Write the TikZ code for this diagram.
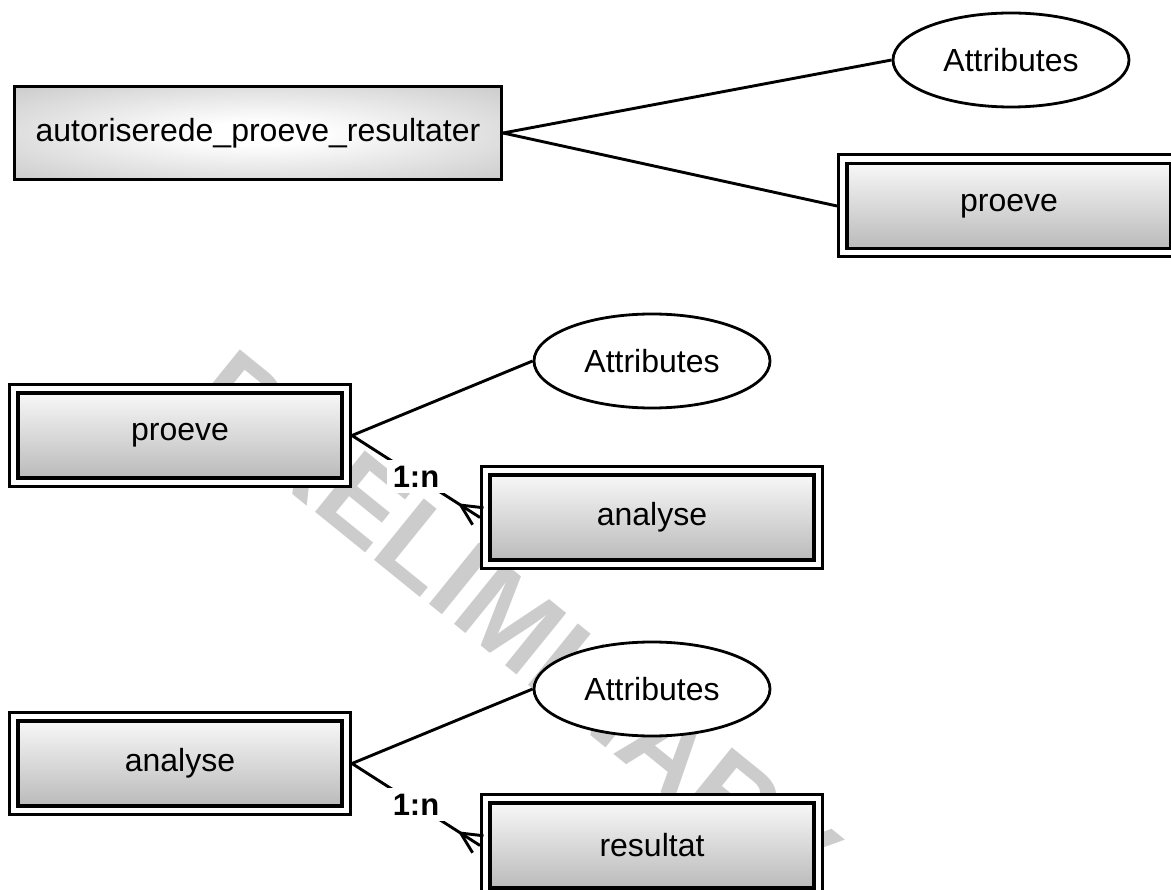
\documentclass[tikz,border=0pt]{standalone}
\usepackage{fontspec}
\setmainfont{Liberation Sans}
\usetikzlibrary{shapes.geometric,calc}
\pgfdeclareradialshading{entshade}{\pgfpoint{0bp}{0bp}}{color(0bp)=(white); color(6bp)=(white); color(50bp)=(black!30); color(72bp)=(black!34)}
\begin{document}
\begin{tikzpicture}[x=1pt,y=-1pt,
  every node/.style={font=\fontsize{32}{38}\selectfont},
  entity/.style={draw, line width=3.2pt, rectangle, shading=entshade, minimum width=487pt, minimum height=93pt, inner sep=0pt},
  weakouter/.style={draw, line width=3pt, fill=white, minimum width=341pt, minimum height=102pt, inner sep=0pt},
  weakinner/.style={draw, line width=3.3pt, top color=black!3, bottom color=black!27, minimum width=324pt, minimum height=85pt, inner sep=0pt},
  attr/.style={draw, ellipse, line width=2.8pt, fill=white, minimum width=236pt, minimum height=94pt, inner sep=0pt},
  conn/.style={line width=2.9pt, line join=round},
  card/.style={fill=white, inner sep=6pt, font=\fontsize{31}{37}\selectfont\bfseries},
  wmark/.style={text=black!20, font=\fontsize{115}{115}\selectfont\bfseries, rotate=-39, inner sep=0pt}]
\useasboundingbox (0,0) rectangle (1171,890);
\clip (0,0) rectangle (1171,890);
\fill[white] (0,0) rectangle (1171,890);

\node[wmark] (wm) at (516,624) {PRELIMINARY};

% row 1
\node[entity] (ars) at (258,133) {autoriserede\_proeve\_resultater};
\node[attr] (at1) at (1011,60) {Attributes};
\node[weakouter] (pr1) at (1009,206) {};
\node[weakinner] (pr1i) at (pr1) {proeve};

% row 2
\node[weakouter] (pr2) at (180,435.5) {};
\node[weakinner] (pr2i) at (pr2) {proeve};
\node[attr] (at2) at (652,361) {Attributes};
\node[weakouter] (an2) at (652,517.5) {};
\node[weakinner] (an2i) at (an2) {analyse};

% row 3
\node[weakouter] (an3) at (180,763.5) {};
\node[weakinner] (an3i) at (an3) {analyse};
\node[attr] (at3) at (652,689) {Attributes};
\node[weakouter] (re3) at (652,845.5) {};
\node[weakinner] (re3i) at (re3) {resultat};

% connectors row 1
\draw[conn] (ars.east) -- (at1.west);
\draw[conn] (ars.east) -- (pr1.west);

% connectors row 2
\draw[conn] (pr2.east) -- (at2.west);
\draw[conn] (pr2.east) -- (an2.west) node[card, pos=0.5] {1:n};
\coordinate (c2) at ($(an2.west)!23pt!(pr2.east)$);
\draw[conn] ($(c2)!1!26:(an2.west)$) -- (c2) -- ($(c2)!1!-26:(an2.west)$);

% connectors row 3
\draw[conn] (an3.east) -- (at3.west);
\draw[conn] (an3.east) -- (re3.west) node[card, pos=0.5] {1:n};
\coordinate (c3) at ($(re3.west)!23pt!(an3.east)$);
\draw[conn] ($(c3)!1!26:(re3.west)$) -- (c3) -- ($(c3)!1!-26:(re3.west)$);
\end{tikzpicture}
\end{document}
